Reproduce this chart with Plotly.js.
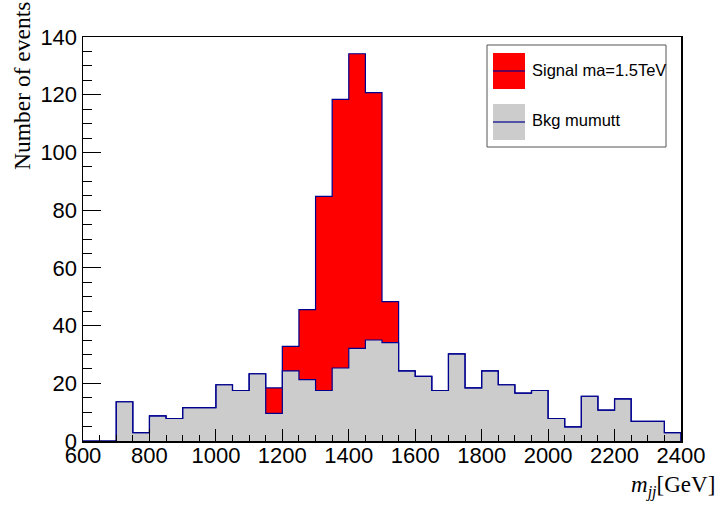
<!DOCTYPE html>
<html>
<head>
<meta charset="utf-8">
<script src="https://cdn.plot.ly/plotly-3.0.1.min.js"></script>
<style>html,body{margin:0;padding:0;background:#fff;}#chart{width:719px;height:505px;}</style>
</head>
<body>
<div id="chart"></div>
<script>
// Bin edges of m_jj in GeV (50 GeV bins)
const binEdges = [600,650,700,750,800,850,900,950,1000,1050,1100,1150,1200,1250,1300,1350,1400,1450,1500,1550,1600,1650,1700,1750,1800,1850,1900,1950,2000,2050,2100,2150,2200,2250,2300,2350,2400];
// Background (mumutt) counts per bin
const bkgCounts = [0,0,13.6,2.9,8.7,7.8,11.6,11.6,19.5,17.5,23.3,9.6,24.3,21.3,17.5,25.3,32.1,35.0,34.1,24.3,22.4,17.5,30.2,18.4,24.3,19.5,16.6,17.5,7.8,4.9,15.5,10.7,14.6,6.8,6.8,2.9];
// Signal (ma = 1.5 TeV) counts per bin, stacked on background
const sigCounts = [0,0,0,0,0,0,0,0,0,0,0,8.8,8.5,24.2,67.3,93.1,102.1,85.7,14.2,0,0,0,0,0,0,0,0,0,0,0,0,0,0,0,0,0];
const xTicks = [600,800,1000,1200,1400,1600,1800,2000,2200,2400];
const yTicks = [0,20,40,60,80,100,120,140];
const legendLabels = ["Signal ma=1.5TeV", "Bkg mumutt"];

function stepXY(vals) {
  const xs = [], ys = [];
  for (let i = 0; i < vals.length; i++) { xs.push(binEdges[i]); ys.push(vals[i]); }
  xs.push(binEdges[binEdges.length - 1]); ys.push(vals[vals.length - 1]);
  xs.push(binEdges[binEdges.length - 1]); ys.push(0);
  return {xs, ys};
}
const totalCounts = bkgCounts.map((b, i) => b + sigCounts[i]);
const bk = stepXY(bkgCounts);
const tot = stepXY(totalCounts);

const lineColor = '#00008f';
const traces = [
  {x: bk.xs, y: bk.ys, type: 'scatter', mode: 'lines', line: {shape: 'hv', color: lineColor, width: 1.2},
   fill: 'tozeroy', fillcolor: '#cccccc', showlegend: false, hoverinfo: 'skip'},
  {x: tot.xs, y: tot.ys, type: 'scatter', mode: 'lines', line: {shape: 'hv', color: lineColor, width: 1.2},
   fill: 'tonexty', fillcolor: '#ff0000', showlegend: false, hoverinfo: 'skip'}
];

const axFont = {family: 'Liberation Sans, Arial, sans-serif', size: 22, color: '#000'};
const legFont = {family: 'Liberation Sans, Arial, sans-serif', size: 16.5, color: '#000'};
const px = v => (v - 83) / 598;
const py = v => (441 - v) / 404;
const layout = {
  width: 719, height: 505,
  margin: {l: 83, r: 38, t: 37, b: 64},
  paper_bgcolor: '#fff', plot_bgcolor: '#fff',
  showlegend: false,
  xaxis: {range: [600, 2400], tickvals: xTicks, ticktext: xTicks.map(String), ticks: 'inside', ticklen: 12,
    tickcolor: '#000', tickwidth: 1, showgrid: false, zeroline: false, showline: true, linecolor: '#000', linewidth: 1.5,
    mirror: true, tickfont: axFont, ticklabelstandoff: -6,
    minor: {dtick: 50, ticks: 'inside', ticklen: 6, tickcolor: '#000', showgrid: false}},
  yaxis: {range: [0, 140], tickvals: yTicks, ticktext: yTicks.map(String), ticks: 'inside', ticklen: 18,
    tickcolor: '#000', tickwidth: 1, showgrid: false, zeroline: false, showline: true, linecolor: '#000', linewidth: 1.5,
    mirror: true, tickfont: axFont,
    minor: {dtick: 5, ticks: 'inside', ticklen: 9, tickcolor: '#000', showgrid: false}},
  shapes: [
    {type: 'rect', xref: 'paper', yref: 'paper', x0: px(487), x1: px(666), y0: py(147), y1: py(45),
     line: {color: '#555', width: 1}, fillcolor: '#fff'},
    {type: 'rect', xref: 'paper', yref: 'paper', x0: px(493), x1: px(525), y0: py(89), y1: py(53),
     line: {width: 0}, fillcolor: '#ff0000'},
    {type: 'line', xref: 'paper', yref: 'paper', x0: px(493), x1: px(525), y0: py(71), y1: py(71),
     line: {color: lineColor, width: 1.2}},
    {type: 'rect', xref: 'paper', yref: 'paper', x0: px(493), x1: px(525), y0: py(140), y1: py(104),
     line: {width: 0}, fillcolor: '#cccccc'},
    {type: 'line', xref: 'paper', yref: 'paper', x0: px(493), x1: px(525), y0: py(122), y1: py(122),
     line: {color: lineColor, width: 1.2}}
  ],
  annotations: [
    {text: legendLabels[0], xref: 'paper', yref: 'paper', x: px(530), y: py(70), xanchor: 'left', yanchor: 'middle',
     showarrow: false, font: legFont},
    {text: legendLabels[1], xref: 'paper', yref: 'paper', x: px(530), y: py(120), xanchor: 'left', yanchor: 'middle',
     showarrow: false, font: legFont},
    {text: 'Number of events', xref: 'paper', yref: 'paper', x: px(22), y: py(0), xanchor: 'center', yanchor: 'top',
     textangle: -90, showarrow: false, font: {family: 'Liberation Serif, Times New Roman, serif', size: 23.5, color: '#000'}},
    {text: '<i>m</i><sub><i>jj</i></sub>[GeV]', xref: 'paper', yref: 'paper', x: px(717), y: py(486),
     xanchor: 'right', yanchor: 'middle', showarrow: false,
     font: {family: 'Liberation Serif, Times New Roman, serif', size: 23, color: '#000'}}
  ]
};
Plotly.newPlot('chart', traces, layout, {displayModeBar: false, staticPlot: true});
</script>
</body>
</html>
